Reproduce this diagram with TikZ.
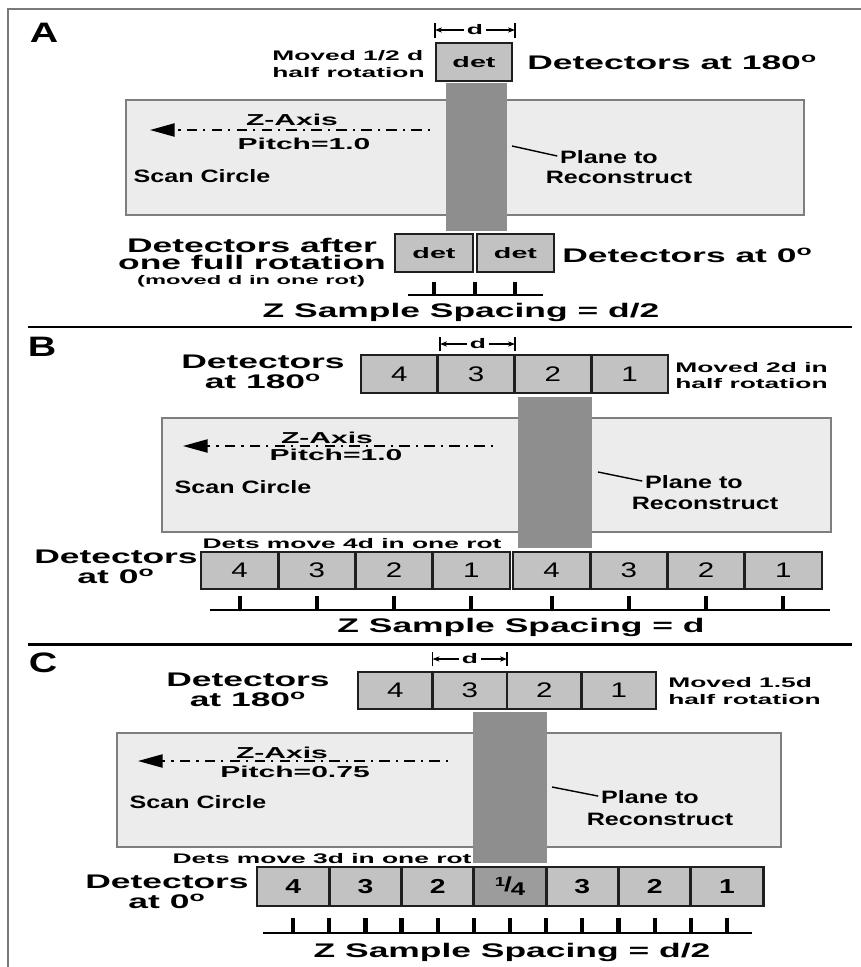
\documentclass[tikz,border=0pt]{standalone}
\usepackage{fontspec}
\setmainfont{Liberation Sans}[FakeStretch=1.4]
\newfontfamily\widefont{Liberation Sans}[FakeStretch=1.9]
\newfontfamily\bigfont{Liberation Sans}[FakeStretch=1.8]
\usepackage{tikz}
\usetikzlibrary{arrows.meta, positioning}
\tikzset{>=stealth}
\usepackage{xcolor}
\definecolor{scangray}{HTML}{ECECEC}
\definecolor{scanedge}{HTML}{7E7E7E}
\definecolor{detgray}{HTML}{C2C2C2}
\definecolor{quartergray}{HTML}{9C9C9C}
\definecolor{bandgray}{HTML}{8E8E8E}
\definecolor{framegray}{HTML}{7A7A7A}
\newcommand\pxu{0.02cm}
\newcommand\degsign{\textsuperscript{o}}
\newcommand\quarter{\raisebox{0.5ex}{\fontsize{7.5}{7.5}\selectfont 1}\kern-0.05em/\kern-0.05em\raisebox{-0.35ex}{\fontsize{10.5}{10.5}\selectfont 4}}
\tikzset{
  paneltag/.style={font=\bfseries\fontsize{16}{16}\selectfont, inner sep=0pt, anchor=base},
  bigtext/.style={font=\bigfont\bfseries\fontsize{11.2}{9.7}\selectfont, inner sep=0pt},
  bigstack/.style={font=\bigfont\bfseries\fontsize{11.2}{11.4}\selectfont, inner sep=0pt, align=center, anchor=north},
  medtext/.style={font=\widefont\bfseries\fontsize{7.9}{9.5}\selectfont, inner sep=0pt},
  smalltext/.style={font=\widefont\bfseries\fontsize{7.1}{8}\selectfont, inner sep=0pt},
  axistext/.style={font=\widefont\bfseries\fontsize{9}{10}\selectfont, inner sep=0pt, anchor=base},
  bodytext/.style={font=\bfseries\fontsize{10.2}{12}\selectfont, inner sep=0pt, anchor=base},
  dettext/.style={font=\widefont\bfseries\fontsize{8.6}{10}\selectfont},
  numtext/.style={font=\fontsize{12}{12}\selectfont},
  boldnum/.style={font=\bfseries\fontsize{11.5}{12}\selectfont},
  detbox/.style={draw=black!88, line width=1.6pt, fill=detgray, inner sep=0pt},
  scanbox/.style={fill=scangray, draw=scanedge, line width=0.9pt},
  band/.style={fill=bandgray},
  zaxis/.style={-{Triangle[length=14pt, width=7.5pt]}, line width=0.9pt, dash pattern=on 1.2pt off 3.5pt on 6pt off 3.5pt},
  leader/.style={line width=0.8pt, shorten >=1.5pt},
  dimbar/.style={line width=1.1pt},
  dimarrow/.style={-{Stealth[length=4pt, width=3pt]}, line width=0.7pt},
  tick/.style={line width=2.4pt},
  tickbase/.style={line width=1.6pt},
  divider/.style={line width=1.7pt}
}
\begin{document}
\begin{tikzpicture}[x=0.02cm, y=-0.02cm]
\useasboundingbox (0,0) rectangle (861,967);
\draw[framegray, line width=0.9pt] (8,967) -- (8,9) -- (861,9);

% ---------- A ----------
\node[paneltag] (Atag) at (44,42) {A};
\filldraw[scanbox] (126,100) rectangle (804,215);
\fill[band] (446,83) rectangle (507,231);
\node[detbox, dettext, minimum width=76*\pxu, minimum height=38*\pxu] (Atop) at (474,62) {det};
\node[medtext, inner sep=1.5pt] (Adim) at (475,30) {d};
\coordinate (AdimL) at (435,30);
\coordinate (AdimR) at (515,30);
\draw[dimbar] (435,23) -- (435,38);
\draw[dimbar] (515,23) -- (515,38);
\draw[dimarrow] (Adim) -- (AdimL);
\draw[dimarrow] (Adim) -- (AdimR);
\node[medtext, align=left, anchor=north west] (Amoved) at (272,50) {Moved 1/2 d\\half rotation};
\node[bigtext, anchor=base west] (Atopname) at (527,69) {Detectors at 180\degsign};
\coordinate (Aztail) at (430,130);
\coordinate (Azhead) at (150,130);
\draw[zaxis] (Aztail) -- (Azhead);
\node[axistext] (Aaxis) at (292,125) {Z-Axis};
\node[axistext] (Apitch) at (304,149) {Pitch=1.0};
\node[bodytext] (Ascan) at (202,182) {Scan Circle};
\coordinate (Aleader) at (512,146);
\node[bodytext] (Aplane) at (609,163) {Plane to};
\node[bodytext] (Arecon) at (619,183) {Reconstruct};
\draw[leader] (Aleader) -- (Aplane.west);
\node[detbox, dettext, minimum width=78*\pxu, minimum height=38*\pxu] (Abot1) at (434,253) {det};
\node[detbox, dettext, minimum width=77*\pxu, minimum height=38*\pxu] (Abot2) at (515.5,253) {det};
\node[bigtext, anchor=base west] (Abotname) at (562,262) {Detectors at 0\degsign};
\node[bigtext, align=center, anchor=north] (Aafter) at (252,238) {Detectors after\\one full rotation};
\node[smalltext, anchor=base] (Aaftermoved) at (251,284) {(moved d in one rot)};
\foreach \tx in {434,475,515}
  \draw[tick] (\tx,282) -- (\tx,295);
\draw[tickbase] (408,295) -- (543,295);
\node[bigtext, anchor=base] (Aspacing) at (461,317) {Z Sample Spacing = d/2};
\draw[divider] (28,327) -- (852,327);

% ---------- B ----------
\node[paneltag] (Btag) at (42,356) {B};
\node[bigstack] (Btopname) at (263,355) {Detectors\\at 180\degsign};
\filldraw[scanbox] (162,418) rectangle (831,532);
\fill[band] (518,397) rectangle (592,548);
\foreach \lbl [count=\i from 0] in {4,3,2,1}
  \node[detbox, numtext, minimum width=76.75*\pxu, minimum height=38*\pxu] (Btop\i) at ({361+76.75*(\i+0.5)},374) {\lbl};
\node[medtext, inner sep=1.5pt] (Bdim) at (478,344) {d};
\coordinate (BdimL) at (440,344);
\coordinate (BdimR) at (515,344);
\draw[dimbar] (440,337) -- (440,351);
\draw[dimbar] (515,337) -- (515,351);
\draw[dimarrow] (Bdim) -- (BdimL);
\draw[dimarrow] (Bdim) -- (BdimR);
\node[medtext, align=left, anchor=north west, font=\widefont\bfseries\fontsize{7.9}{9.1}\selectfont] (Bmoved) at (675,362) {Moved 2d in\\half rotation};
\coordinate (Bztail) at (493,446);
\coordinate (Bzhead) at (183,446);
\draw[zaxis] (Bztail) -- (Bzhead);
\node[axistext] (Baxis) at (327,443) {Z-Axis};
\node[axistext] (Bpitch) at (336,460) {Pitch=1.0};
\node[bodytext] (Bscan) at (243,493) {Scan Circle};
\coordinate (Bleader) at (598,472);
\node[bodytext] (Bplane) at (694,488) {Plane to};
\node[bodytext] (Brecon) at (705,509) {Reconstruct};
\draw[leader] (Bleader) -- (Bplane.west);
\node[medtext, anchor=base] (Bmove) at (352,548) {Dets move 4d in one rot};
\node[bigstack] (Bbotname) at (116,550) {Detectors\\at 0\degsign};
\foreach \grp/\gx in {a/201,b/513}
  \foreach \lbl [count=\i from 0] in {4,3,2,1}
    \node[detbox, numtext, minimum width=77.25*\pxu, minimum height=37*\pxu] (Bbot\grp\i) at ({\gx+77.25*(\i+0.5)},570.5) {\lbl};
\foreach \gx in {201,513}
  \foreach \k in {0,...,3}
    \draw[tick] ({\gx+77.25*(\k+0.5)},596) -- ++(0,14);
\draw[tickbase] (210,610) -- (830,610);
\node[bigtext, anchor=base] (Bspacing) at (521,632) {Z Sample Spacing = d};
\draw[divider] (28,644) -- (852,644);

% ---------- C ----------
\node[paneltag] (Ctag) at (43,672) {C};
\node[bigstack] (Ctopname) at (248,673) {Detectors\\at 180\degsign};
\filldraw[scanbox] (117,733) rectangle (781,847);
\fill[band] (473,712) rectangle (547,863);
\foreach \lbl [count=\i from 0] in {4,3,2,1}
  \node[detbox, numtext, minimum width=74.5*\pxu, minimum height=37*\pxu] (Ctop\i) at ({358+74.5*(\i+0.5)},690.5) {\lbl};
\node[medtext, inner sep=1.5pt] (Cdim) at (470,659) {d};
\coordinate (CdimL) at (432.5,659);
\coordinate (CdimR) at (507,659);
\draw[dimbar] (432.5,652) -- (432.5,666);
\draw[dimbar] (507,652) -- (507,666);
\draw[dimarrow] (Cdim) -- (CdimL);
\draw[dimarrow] (Cdim) -- (CdimR);
\node[medtext, align=left, anchor=north west] (Cmoved) at (668,677) {Moved 1.5d\\half rotation};
\coordinate (Cztail) at (448,761);
\coordinate (Czhead) at (138,761);
\draw[zaxis] (Cztail) -- (Czhead);
\node[axistext] (Caxis) at (282,758) {Z-Axis};
\node[axistext] (Cpitch) at (295,777) {Pitch=0.75};
\node[bodytext] (Cscan) at (198,808) {Scan Circle};
\coordinate (Cleader) at (552,787);
\node[bodytext] (Cplane) at (650,803) {Plane to};
\node[bodytext] (Crecon) at (660,825) {Reconstruct};
\draw[leader] (Cleader) -- (Cplane.west);
\node[medtext, anchor=base] (Cmove) at (322,863) {Dets move 3d in one rot};
\node[bigstack] (Cbotname) at (167,875) {Detectors\\at 0\degsign};
\foreach \lbl/\shade [count=\i from 0] in {4/detgray,3/detgray,2/detgray,\quarter/quartergray,3/detgray,2/detgray,1/detgray}
  \node[detbox, boldnum, fill=\shade, minimum width=72.3*\pxu, minimum height=39*\pxu] (Cbot\i) at ({257+72.3*(\i+0.5)},886.5) {\lbl};
\foreach \k in {0,...,12}
  \draw[tick] ({293.15+36.15*\k},918) -- ++(0,15);
\draw[tickbase] (263,933) -- (752,933);
\node[bigtext, anchor=base] (Cspacing) at (512,957) {Z Sample Spacing = d/2};
\end{tikzpicture}
\end{document}
